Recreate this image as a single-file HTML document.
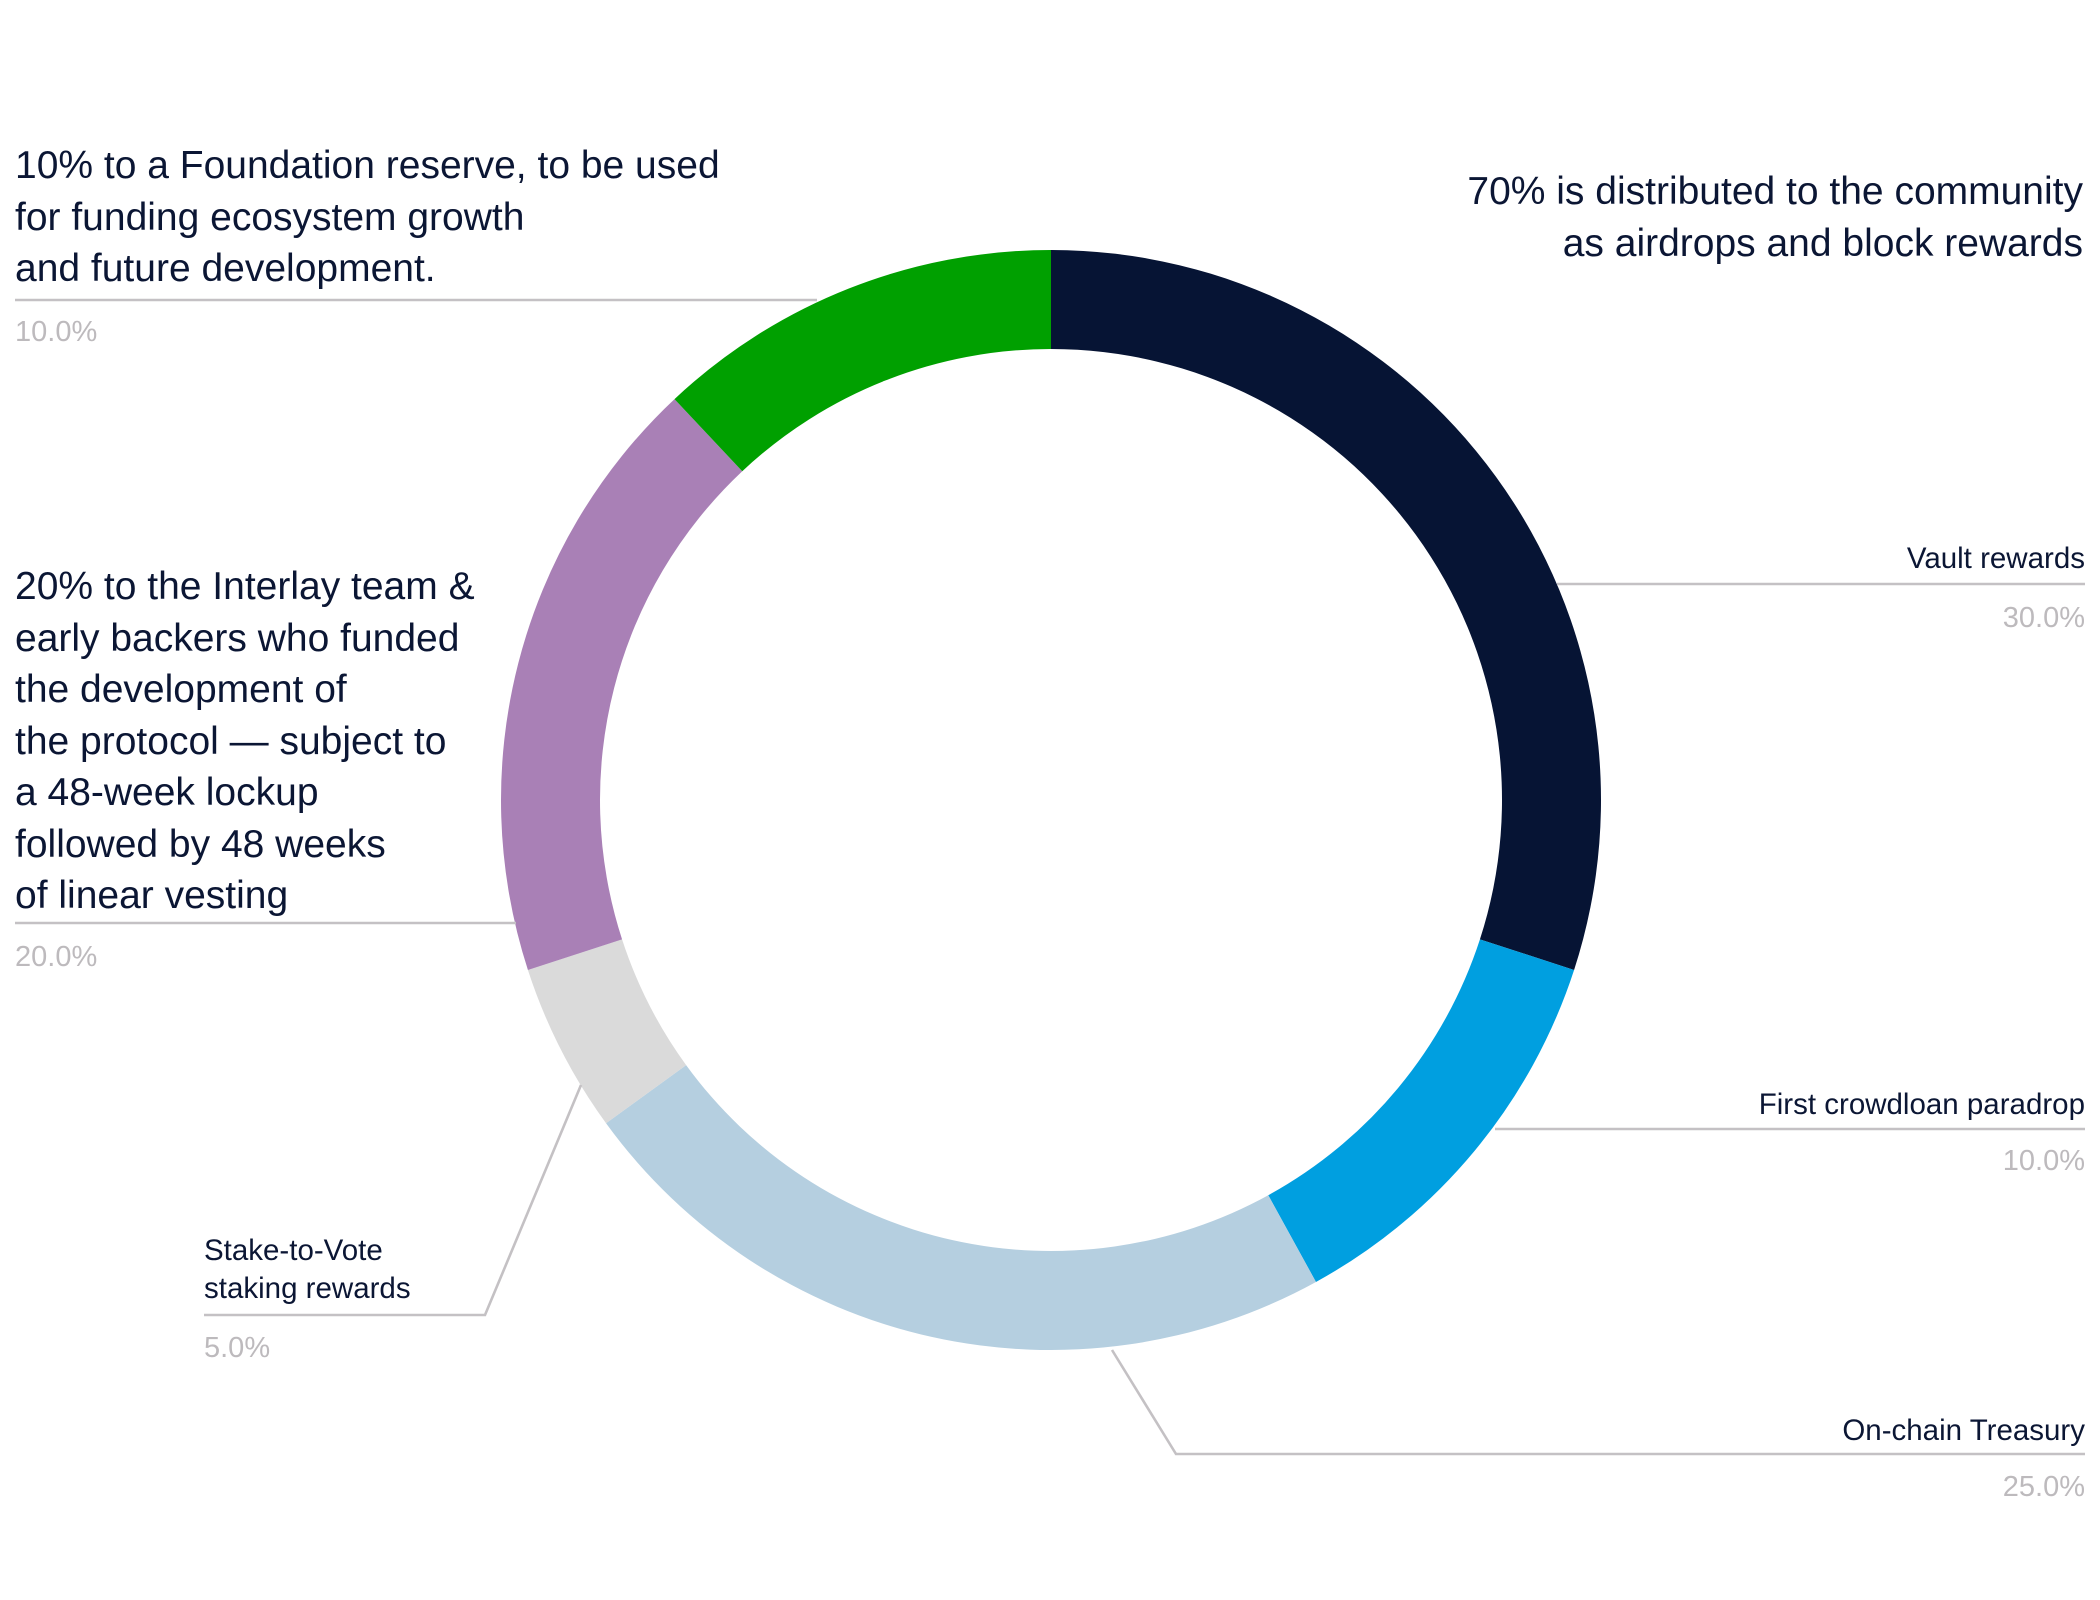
<!DOCTYPE html>
<html><head><meta charset="utf-8"><style>
html,body{margin:0;padding:0;background:#fff;}
svg{display:block;}
text{font-family:"Liberation Sans",Arial,sans-serif;}
.big{font-size:39px;fill:#0b1634;}
.sm{font-size:29.5px;fill:#0b1634;}
.pc{font-size:29px;fill:#bdbabd;}
.ln{stroke:#c4c1c4;stroke-width:2.6;fill:none;}
</style></head><body>
<svg id="chart" width="2100" height="1600" viewBox="0 0 2100 1600" xmlns="http://www.w3.org/2000/svg">
<g id="slices"></g>
<g>
<text class="big" x="15" y="178">10% to a Foundation reserve, to be used</text>
<text class="big" x="15" y="230">for funding ecosystem growth</text>
<text class="big" x="15" y="281">and future development.</text>
<polyline class="ln" points="15,300 817,300"/>
<text class="pc" x="15" y="341">10.0%</text>
</g>
<g>
<text class="big" x="2083" y="204" text-anchor="end">70% is distributed to the community</text>
<text class="big" x="2083" y="256" text-anchor="end">as airdrops and block rewards</text>
</g>
<g>
<text class="big" x="15" y="599">20% to the Interlay team &amp;</text>
<text class="big" x="15" y="651">early backers who funded</text>
<text class="big" x="15" y="702">the development of</text>
<text class="big" x="15" y="754">the protocol — subject to</text>
<text class="big" x="15" y="805">a 48-week lockup</text>
<text class="big" x="15" y="857">followed by 48 weeks</text>
<text class="big" x="15" y="908">of linear vesting</text>
<polyline class="ln" points="15,923 516,923"/>
<text class="pc" x="15" y="966">20.0%</text>
</g>
<g>
<text class="sm" x="2085" y="568" text-anchor="end">Vault rewards</text>
<polyline class="ln" points="1557,584 2085,584"/>
<text class="pc" x="2085" y="627" text-anchor="end">30.0%</text>
</g>
<g>
<text class="sm" x="2085" y="1114" text-anchor="end">First crowdloan paradrop</text>
<polyline class="ln" points="1495,1129 2085,1129"/>
<text class="pc" x="2085" y="1170" text-anchor="end">10.0%</text>
</g>
<g>
<text class="sm" x="2085" y="1440" text-anchor="end">On-chain Treasury</text>
<polyline class="ln" points="1112,1350 1176,1454 2085,1454"/>
<text class="pc" x="2085" y="1496" text-anchor="end">25.0%</text>
</g>
<g>
<text class="sm" x="204" y="1260">Stake-to-Vote</text>
<text class="sm" x="204" y="1298">staking rewards</text>
<polyline class="ln" points="581,1085 485,1315 204,1315"/>
<text class="pc" x="204" y="1357">5.0%</text>
</g>
</svg>
<script>
const categories = ["Vault rewards","First crowdloan paradrop","On-chain Treasury","Stake-to-Vote staking rewards","Interlay team & early backers","Foundation reserve"];
const values = [30,12,23,5,18,12];
const colors = ["#061434","#009fe0","#b5cfe0","#dadada","#a980b6","#00a000"];
const cx=1051, cy=800, R=550, r=451;
const g=document.getElementById('slices');
const total=values.reduce((a,b)=>a+b,0);
let acc=0;
function pt(rad,frac){const a=frac*2*Math.PI-Math.PI/2;return [cx+rad*Math.cos(a),cy+rad*Math.sin(a)];}
values.forEach((v,i)=>{
  const f0=acc/total, f1=(acc+v)/total; acc+=v;
  const large=(f1-f0)>0.5?1:0;
  const [x0,y0]=pt(R,f0),[x1,y1]=pt(R,f1),[x2,y2]=pt(r,f1),[x3,y3]=pt(r,f0);
  const p=document.createElementNS('http://www.w3.org/2000/svg','path');
  p.setAttribute('d',`M${x0},${y0}A${R},${R} 0 ${large} 1 ${x1},${y1}L${x2},${y2}A${r},${r} 0 ${large} 0 ${x3},${y3}Z`);
  p.setAttribute('fill',colors[i]);
  
  
  g.appendChild(p);
});
</script>
</body></html>
